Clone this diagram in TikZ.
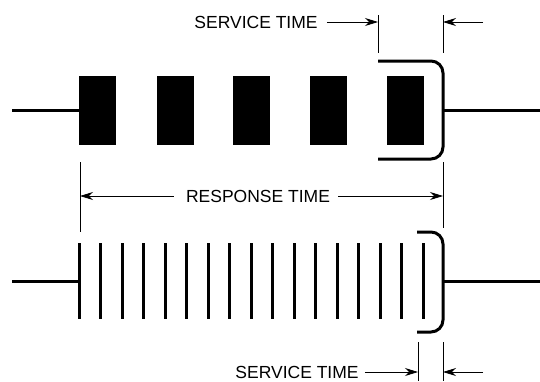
\documentclass[tikz,border=0pt]{standalone}
\usepackage{fontspec}
\setmainfont{Liberation Sans}
\usetikzlibrary{arrows.meta}

\begin{document}
\begin{tikzpicture}[x=1pt,y=-1pt,
    wire/.style={line width=3pt},
    tickline/.style={line width=0.8pt},
    dimarrow/.style={line width=0.8pt,-{Stealth[length=13pt,width=8pt]}},
    lbl/.style={font=\fontsize{17.5}{20}\selectfont,inner sep=0pt}]
    \useasboundingbox (0,0) rectangle (540,381);

    % top row: few long jobs
    \draw[wire] (12,110) -- (79,110);
    \foreach \x in {79,157,233,310,387}
        \fill (\x,76) rectangle ++(37,69);
    \draw[wire,rounded corners=12pt] (378,61) -- (443,61) -- (443,159) -- (378,159);
    \draw[wire] (443,110) -- (540,110);

    % top service time
    \coordinate (sa) at (378,22);
    \coordinate (sb) at (443,22);
    \draw[tickline] (378,15) -- (378,53);
    \draw[tickline] (443,15) -- (443,53);
    \node[lbl] (svctop) at (256,22) {SERVICE TIME};
    \draw[dimarrow] ([xshift=9pt]svctop.east) -- (sa);
    \draw[dimarrow] (483,22) -- (sb);

    % response time
    \coordinate (ra) at (80,196);
    \coordinate (rb) at (443,196);
    \draw[tickline] (80,162) -- (80,232);
    \draw[tickline] (443,162) -- (443,228);
    \node[lbl] (resp) at (258,196) {RESPONSE TIME};
    \draw[dimarrow] ([xshift=-12pt]resp.west) -- (ra);
    \draw[dimarrow] ([xshift=8pt]resp.east) -- (rb);

    % bottom row: many short jobs
    \draw[wire] (12,281) -- (79,281);
    \foreach \i in {0,...,16}
        \draw[wire] (79+\i*21.5,243) -- (79+\i*21.5,319);
    \draw[wire,rounded corners=12pt] (417,232) -- (443,232) -- (443,332) -- (417,332);
    \draw[wire] (443,281) -- (540,281);

    % bottom service time
    \coordinate (sc) at (418,372);
    \coordinate (sd) at (443,372);
    \draw[tickline] (418,342) -- (418,381);
    \draw[tickline] (443,342) -- (443,381);
    \node[lbl] (svcbot) at (297,372) {SERVICE TIME};
    \draw[dimarrow] ([xshift=6pt]svcbot.east) -- (sc);
    \draw[dimarrow] (483,372) -- (sd);
\end{tikzpicture}
\end{document}
